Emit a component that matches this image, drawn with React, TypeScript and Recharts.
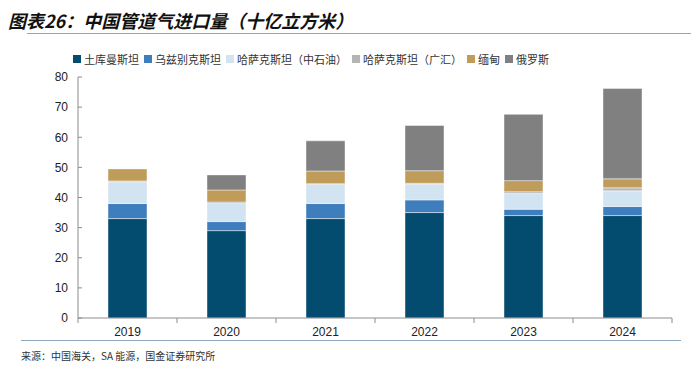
import React from "react";
import { BarChart, Bar, XAxis, YAxis } from "recharts";

const years = ["2019", "2020", "2021", "2022", "2023", "2024"];
const turkmenistan = [33, 29, 33, 35, 34, 34];
const uzbekistan = [5, 3, 5, 4.2, 2.1, 3];
const kazakhCnpc = [7.2, 6, 6.3, 5.2, 5.2, 5.2];
const kazakhGuanghui = [0.3, 0.5, 0.3, 0.3, 0.6, 1];
const myanmar = [4, 4, 4.2, 4.2, 3.7, 3];
const russia = [0, 5, 10, 15, 22, 30];
const yTicks = [0, 10, 20, 30, 40, 50, 60, 70, 80];

const series = [
  { key: "tkm", name: "土库曼斯坦", color: "#034B6F", values: turkmenistan },
  { key: "uzb", name: "乌兹别克斯坦", color: "#3F7EBD", values: uzbekistan },
  { key: "kzc", name: "哈萨克斯坦（中石油）", color: "#D2E3F2", values: kazakhCnpc },
  { key: "kzg", name: "哈萨克斯坦（广汇）", color: "#B5B5B5", values: kazakhGuanghui },
  { key: "mmr", name: "缅甸", color: "#C09C5B", values: myanmar },
  { key: "rus", name: "俄罗斯", color: "#808080", values: russia },
];

const data = years.map((year, i) => {
  const row: Record<string, string | number> = { year };
  series.forEach((s) => {
    row[s.key] = s.values[i];
  });
  return row;
});

const cjk = "'Noto Sans CJK SC', 'Noto Sans', sans-serif";
const num = "'Liberation Sans', Arial, sans-serif";
const axisColor = "#8c8c8c";

function XTick(props: any) {
  const { x, y, payload, index } = props;
  const half = payload.offset || 49.5;
  return (
    <g>
      <line x1={x + half} x2={x + half} y1={y - 8} y2={y - 3} stroke={axisColor} />
      {index === 0 && <line x1={x - half} x2={x - half} y1={y - 8} y2={y - 3} stroke={axisColor} />}
      <text x={x} y={y + 10} textAnchor="middle" fontSize={12} fontFamily={num} fill="#222">
        {payload.value}
      </text>
    </g>
  );
}

export default function App() {
  return (
    <div style={{ position: "absolute", left: 0, top: 0, width: 691, height: 372, background: "#fff" }}>
      <div
        style={{
          position: "absolute",
          left: 8,
          top: 7,
          fontFamily: cjk,
          fontSize: 18,
          fontWeight: "bold",
          fontStyle: "italic",
          color: "#111",
          whiteSpace: "nowrap",
        }}
      >
        图表26：中国管道气进口量（十亿立方米）
      </div>
      <div style={{ position: "absolute", left: 27, top: 33, width: 664, height: 1, background: "#8DA7BE" }} />
      <div
        style={{
          position: "absolute",
          left: 73,
          top: 51,
          display: "flex",
          alignItems: "center",
          fontFamily: cjk,
          fontSize: 11,
          color: "#333",
          whiteSpace: "nowrap",
        }}
      >
        {series.map((s) => (
          <span key={s.key} style={{ display: "flex", alignItems: "center", marginRight: 5 }}>
            <span style={{ width: 8, height: 8, background: s.color, display: "inline-block", marginRight: 3 }} />
            {s.name}
          </span>
        ))}
      </div>
      <div style={{ position: "absolute", left: 0, top: 0 }}>
        <BarChart width={691} height={372} data={data} margin={{ top: 77, right: 19, bottom: 24, left: 38 }} barSize={39}>
          <XAxis
            dataKey="year"
            axisLine={{ stroke: axisColor }}
            tickLine={false}
            tick={<XTick />}
            height={30}
          />
          <YAxis
            domain={[0, 80]}
            ticks={yTicks}
            width={40}
            axisLine={{ stroke: axisColor }}
            tickLine={{ stroke: axisColor }}
            tickSize={-4}
            tickMargin={14}
            tick={{ fontSize: 12, fontFamily: num, fill: "#222" }}
          />
          {series.map((s) => (
            <Bar
              key={s.key}
              dataKey={s.key}
              name={s.name}
              stackId="a"
              fill={s.color}
              stroke="rgba(255,255,255,0.55)"
              strokeWidth={0.8}
              isAnimationActive={false}
            />
          ))}
        </BarChart>
      </div>
      <div style={{ position: "absolute", left: 21, top: 340, width: 660, height: 1, background: "#8DA7BE" }} />
      <div style={{ position: "absolute", left: 21, top: 348, fontFamily: cjk, fontSize: 10, color: "#333", whiteSpace: "nowrap" }}>
        来源：中国海关，SA 能源，国金证券研究所
      </div>
    </div>
  );
}
